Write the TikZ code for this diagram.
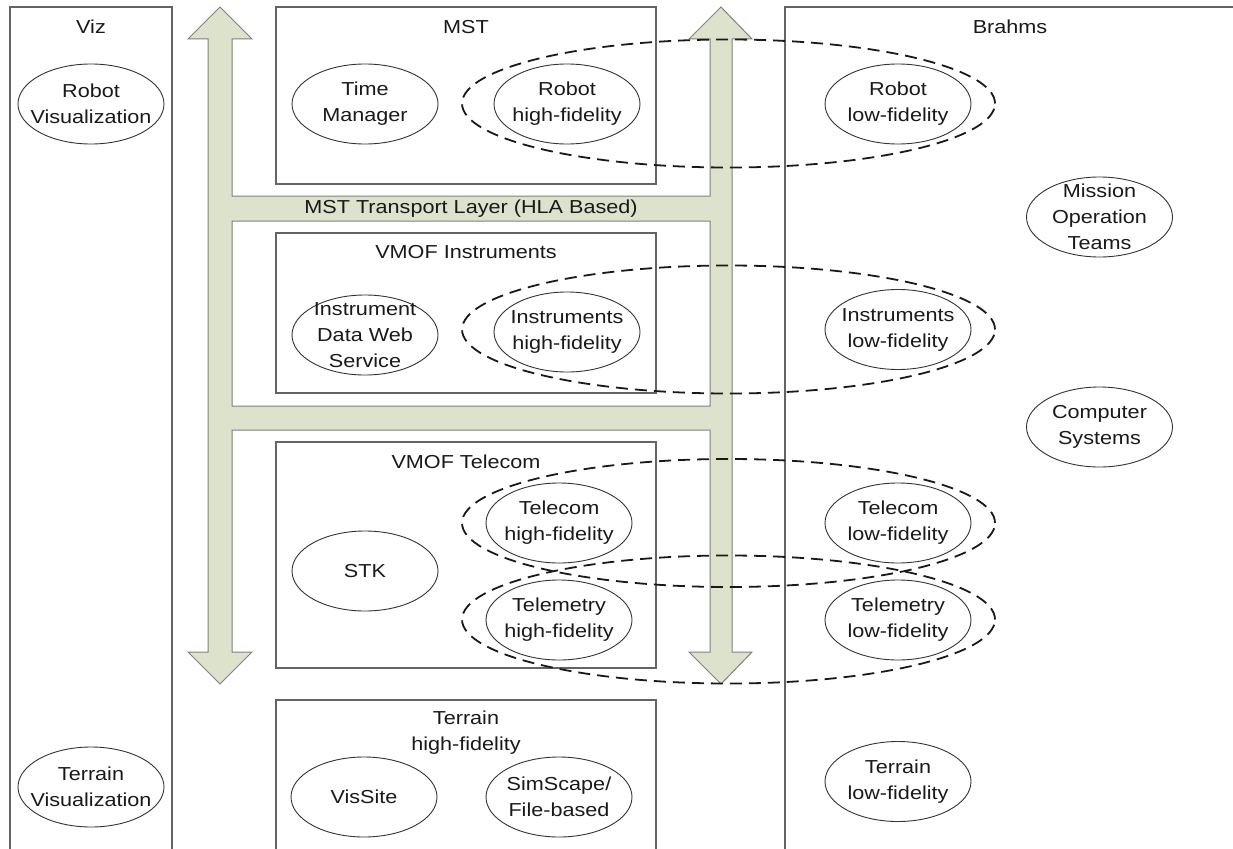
\documentclass[tikz,border=0pt]{standalone}
\usepackage{fontspec}
\setmainfont{Liberation Sans}[FakeStretch=1.15]
\usepackage{tikz}
\usetikzlibrary{shapes.geometric}
\usepackage{xcolor}
\definecolor{busfill}{RGB}{220,226,204}
\definecolor{busline}{RGB}{128,128,128}
\definecolor{boxline}{RGB}{100,100,100}

\begin{document}
\begin{tikzpicture}[x=1pt, y=-1pt,
    every node/.style={font=\fontsize{18.8}{26}\selectfont, text=black!90},
    box/.style={draw=boxline, line width=1.3pt, rectangle, inner sep=0pt},
    blob/.style={draw=black!80, line width=0.9pt, ellipse, inner sep=-40pt,
                 minimum width=146pt, minimum height=80pt, align=center},
    group/.style={draw=black!90, line width=1.8pt, dash pattern=on 12pt off 7pt,
                  ellipse, inner sep=0pt, minimum width=533pt, minimum height=128pt}]
    \useasboundingbox (0,0) rectangle (1233,848);

    \fill[busfill, draw=busline, line width=1pt, even odd rule]
        (220,7) -- (252,39) -- (232,39) -- (232,196) -- (710,196) -- (710,39)
        -- (689,39) -- (721,7) -- (752,39) -- (732,39) -- (732,652) -- (752,652)
        -- (721,684) -- (689,652) -- (710,652) -- (710,430) -- (232,430)
        -- (232,652) -- (252,652) -- (220,684) -- (188,652) -- (208,652)
        -- (208,39) -- (188,39) -- cycle
        (232,221) rectangle (710,406);
    \node (transport) at (471,208.5) {MST Transport Layer (HLA Based)};

    \node[box, minimum width=162pt, minimum height=870pt] (viz) at (91,442) {};
    \node[box, minimum width=380pt, minimum height=177pt] (mst) at (466,95.5) {};
    \node[box, minimum width=380pt, minimum height=160pt] (instruments) at (466,313) {};
    \node[box, minimum width=380pt, minimum height=226pt] (telecom) at (466,555) {};
    \node[box, minimum width=380pt, minimum height=180pt] (terrain) at (466,790) {};
    \node[box, minimum width=480pt, minimum height=870pt] (brahms) at (1025,442) {};

    \node (vizlabel) at (91,27) {Viz};
    \node (mstlabel) at (466,27) {MST};
    \node (instrumentslabel) at (466,252) {VMOF Instruments};
    \node (telecomlabel) at (466,462) {VMOF Telecom};
    \node[align=center] (terrainlabel) at (466,733) {Terrain\\high-fidelity};
    \node (brahmslabel) at (1010,27) {Brahms};

    \node[blob] (robotvis) at (91,104) {Robot\\Visualization};
    \node[blob] (terrainvis) at (91,787) {Terrain\\Visualization};
    \node[blob] (timemgr) at (365,104) {Time\\Manager};
    \node[blob] (robothf) at (567,104) {Robot\\high-fidelity};
    \node[blob] (instdata) at (365,335) {Instrument\\Data Web\\Service};
    \node[blob] (insthf) at (567,332) {Instruments\\high-fidelity};
    \node[blob] (stk) at (365,571) {STK};
    \node[blob] (telecomhf) at (559,523) {Telecom\\high-fidelity};
    \node[blob] (telemetryhf) at (559,620) {Telemetry\\high-fidelity};
    \node[blob] (vissite) at (364,797) {VisSite};
    \node[blob] (simscape) at (559,797) {SimScape/\\File-based};
    \node[blob] (robotlf) at (898,104) {Robot\\low-fidelity};
    \node[blob] (missionops) at (1099.5,217) {Mission\\Operation\\Teams};
    \node[blob] (instlf) at (898,329.5) {Instruments\\low-fidelity};
    \node[blob] (compsys) at (1099.5,427) {Computer\\Systems};
    \node[blob] (telecomlf) at (898,523) {Telecom\\low-fidelity};
    \node[blob] (telemetrylf) at (898,620) {Telemetry\\low-fidelity};
    \node[blob] (terrainlf) at (898,781.5) {Terrain\\low-fidelity};

    \node[group] (robotpair) at (728.5,103.5) {};
    \node[group] (instpair) at (728.5,329.5) {};
    \node[group] (telecompair) at (728.5,523) {};
    \node[group] (telemetrypair) at (728.5,619.5) {};
\end{tikzpicture}
\end{document}
